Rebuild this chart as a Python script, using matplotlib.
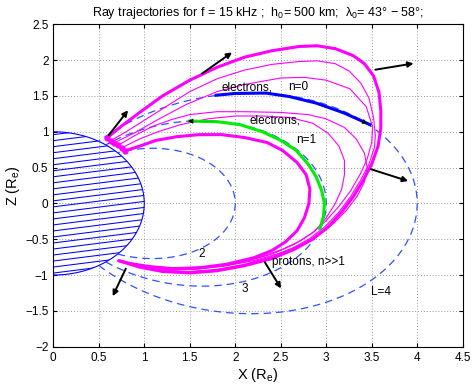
import numpy as np
import matplotlib
matplotlib.use('Agg')
import matplotlib.pyplot as plt
from matplotlib.patches import Polygon

plt.rcParams['font.family'] = ['Liberation Sans', 'DejaVu Sans']
plt.rcParams['mathtext.default'] = 'regular'

# dipole field lines drawn (L-shells) and their labels
L_shells = [2, 3, 4]
L_labels = ['2', '3', 'L=4']
L_label_pos = [(1.63, -0.70), (2.10, -1.19), (3.60, -1.23)]

# ray trajectories (x, z in Earth radii)
ray_outer_x = [0.586, 0.75, 0.95, 1.2, 1.5, 1.8, 2.1, 2.4, 2.7, 2.9, 3.1, 3.3, 3.42, 3.52, 3.58, 3.6,
               3.6, 3.57, 3.5, 3.41, 3.3, 3.17, 3.02, 2.85, 2.65, 2.4, 2.1, 1.8, 1.5, 1.2, 0.95, 0.72]
ray_outer_z = [0.91, 1.08, 1.27, 1.5, 1.72, 1.9, 2.04, 2.13, 2.19, 2.2, 2.16, 2.06, 1.95, 1.78, 1.55, 1.3,
               1.05, 0.8, 0.55, 0.33, 0.1, -0.12, -0.33, -0.5, -0.64, -0.77, -0.87, -0.94, -0.97, -0.95, -0.89, -0.8]

ray_t1_x = [0.63, 0.8, 1.0, 1.25, 1.5, 1.8, 2.1, 2.4, 2.7, 2.9, 3.1, 3.25, 3.38, 3.47, 3.52, 3.54,
            3.53, 3.47, 3.38, 3.27, 3.14, 2.99, 2.82, 2.62, 2.38, 2.1, 1.8, 1.5, 1.2, 0.95, 0.72]
ray_t1_z = [0.875, 1.0, 1.16, 1.36, 1.56, 1.74, 1.86, 1.94, 1.98, 1.99, 1.95, 1.85, 1.68, 1.47, 1.2, 0.95,
            0.78, 0.55, 0.33, 0.1, -0.12, -0.32, -0.49, -0.63, -0.75, -0.85, -0.92, -0.95, -0.93, -0.88, -0.8]

ray_t2_x = [0.67, 0.9, 1.15, 1.46, 1.8, 2.1, 2.5, 2.75, 3.0, 3.26, 3.44, 3.51,
            3.5, 3.45, 3.37, 3.27, 3.14, 3.0, 2.84, 2.65, 2.42, 2.15, 1.85, 1.55, 1.25, 1.0, 0.8, 0.72]
ray_t2_z = [0.845, 0.99, 1.17, 1.38, 1.56, 1.66, 1.75, 1.76, 1.72, 1.6, 1.35, 1.07,
            0.85, 0.62, 0.4, 0.18, -0.04, -0.24, -0.42, -0.57, -0.7, -0.8, -0.88, -0.92, -0.92, -0.88, -0.83, -0.8]

ray_t3_x = [0.71, 0.9, 1.1, 1.3, 1.5, 1.8, 2.1, 2.5, 2.8, 3.0, 3.2, 3.33, 3.42, 3.45, 3.42, 3.34, 3.22,
            3.08, 2.92, 2.72, 2.48, 2.2, 1.9, 1.6, 1.3, 1.05, 0.85, 0.72]
ray_t3_z = [0.81, 0.95, 1.08, 1.17, 1.24, 1.28, 1.28, 1.27, 1.24, 1.18, 1.06, 0.9, 0.7, 0.5, 0.3, 0.1, -0.1,
            -0.28, -0.44, -0.58, -0.7, -0.8, -0.87, -0.91, -0.92, -0.89, -0.84, -0.8]

ray_t4_x = [0.75, 0.95, 1.15, 1.4, 1.7, 2.0, 2.3, 2.6, 2.85, 3.02, 3.14, 3.2, 3.2, 3.17, 3.1, 3.0, 2.88,
            2.72, 2.52, 2.3, 2.0, 1.7, 1.4, 1.1, 0.88, 0.72]
ray_t4_z = [0.775, 0.9, 1.0, 1.1, 1.18, 1.22, 1.22, 1.2, 1.12, 0.98, 0.8, 0.6, 0.4, 0.2, 0.0, -0.2, -0.38,
            -0.52, -0.64, -0.74, -0.83, -0.88, -0.9, -0.89, -0.85, -0.8]

ray_inner_x = [0.79, 0.95, 1.13, 1.35, 1.6, 1.85, 2.1, 2.35, 2.52, 2.68, 2.78, 2.82, 2.81, 2.76, 2.68,
               2.55, 2.4, 2.2, 1.9, 1.6, 1.3, 1.05, 0.85, 0.72]
ray_inner_z = [0.735, 0.8, 0.88, 0.93, 0.96, 0.96, 0.92, 0.85, 0.74, 0.57, 0.4, 0.2, 0.0, -0.2, -0.38,
               -0.54, -0.66, -0.76, -0.85, -0.9, -0.91, -0.88, -0.84, -0.8]

# resonance segments
elec0_x = [1.79, 2.0, 2.34, 2.6, 2.89, 3.2, 3.48]
elec0_z = [1.51, 1.535, 1.54, 1.49, 1.40, 1.26, 1.10]
elec1_x = [2.93, 2.97, 2.98, 2.95, 2.89, 2.8, 2.67, 2.5, 2.3, 2.05, 1.8, 1.5]
elec1_z = [-0.35, -0.18, 0.0, 0.18, 0.37, 0.55, 0.74, 0.88, 1.0, 1.1, 1.14, 1.15]

# wave normal arrows (tail, head)
arrow_tail = [(0.59, 0.92), (1.61, 1.79), (3.51, 1.86), (3.46, 0.49), (2.31, -0.79), (0.81, -0.875)]
arrow_head = [(0.84, 1.33), (1.99, 2.13), (3.99, 1.96), (3.93, 0.30), (2.52, -1.22), (0.64, -1.33)]

fig = plt.figure(figsize=(4.73, 3.9), dpi=100)
ax = fig.add_axes([0.1127, 0.111, 0.8655, 0.8267])

# Earth: hatched half disk
th = np.linspace(-np.pi / 2, np.pi / 2, 200)
earth = Polygon(np.column_stack([np.cos(th), np.sin(th)]), closed=True,
                facecolor='none', edgecolor='none')
ax.add_patch(earth)
for c in np.arange(-1.14, 1.02, 0.084):
    hl, = ax.plot([0, 1.05], [c, c + 0.16 * 1.05], color='b', lw=0.75)
    hl.set_clip_path(earth)
ax.plot(np.cos(th), np.sin(th), color='b', lw=0.8)

# dipole field lines
for L in L_shells:
    lam0 = np.arccos(np.sqrt(1.0 / L))
    lam = np.linspace(-lam0, lam0, 300)
    r = L * np.cos(lam) ** 2
    ax.plot(r * np.cos(lam), r * np.sin(lam), color='#3050ff', lw=0.9, ls=(0, (6, 4)))
for s, (tx, tz) in zip(L_labels, L_label_pos):
    ax.text(tx, tz, s, fontsize=8.5, ha='center', va='center')

mag = '#ff00ff'
for xs, zs, lw in [(ray_t1_x, ray_t1_z, 0.8), (ray_t2_x, ray_t2_z, 0.8),
                   (ray_t3_x, ray_t3_z, 0.8), (ray_t4_x, ray_t4_z, 0.8),
                   (ray_outer_x, ray_outer_z, 2.2), (ray_inner_x, ray_inner_z, 2.2)]:
    ax.plot(xs, zs, color=mag, lw=lw, solid_capstyle='round', solid_joinstyle='round')
    ax.plot(xs[0], zs[0], 'o', color=mag, ms=3.5, mec=mag)

ax.plot(elec0_x, elec0_z, color='b', lw=2.2)
ax.annotate('', xy=(elec0_x[-1], elec0_z[-1]), xytext=(elec0_x[-2], elec0_z[-2]),
            arrowprops=dict(arrowstyle='-|>', color='k', lw=0.1, mutation_scale=9))
ax.plot(elec1_x, elec1_z, color='#00ee00', lw=2.2)
ax.annotate('', xy=(elec1_x[-1] - 0.05, elec1_z[-1]), xytext=(elec1_x[-2], elec1_z[-2]),
            arrowprops=dict(arrowstyle='-|>', color='k', lw=0.1, mutation_scale=9))

for t, h in zip(arrow_tail, arrow_head):
    ax.annotate('', xy=h, xytext=t,
                arrowprops=dict(arrowstyle='-|>', color='k', lw=1.4, mutation_scale=8))

ax.text(1.85, 1.62, 'electrons,', fontsize=8.5, va='center')
ax.text(2.58, 1.62, 'n=0', fontsize=8.5, va='center')
ax.text(2.16, 1.16, 'electrons,', fontsize=8.5, va='center')
ax.text(2.67, 0.88, 'n=1', fontsize=8.5, va='center')
ax.text(2.40, -0.815, 'protons, n>>1', fontsize=8.5, va='center')

ax.set_xlim(0, 4.5)
ax.set_ylim(-2, 2.5)
ax.set_xticks(np.arange(0, 4.51, 0.5))
ax.set_yticks(np.arange(-2, 2.51, 0.5))
ax.set_xticklabels(['0', '0.5', '1', '1.5', '2', '2.5', '3', '3.5', '4', '4.5'])
ax.set_yticklabels(['\u22122', '\u22121.5', '\u22121', '\u22120.5', '0', '0.5', '1', '1.5', '2', '2.5'])
ax.tick_params(direction='in', top=True, right=True, labelsize=8.5, length=3)
ax.grid(True, ls=(0, (1, 2)), color='0.6', lw=0.7)
ax.set_xlabel('X (R$_e$)', fontsize=10.5, labelpad=2)
ax.set_ylabel('Z (R$_e$)', fontsize=10.5, labelpad=2)
ax.set_title('Ray trajectories for f = 15 kHz ;  h$_0$= 500 km;  λ$_0$= 43° − 58°;',
             fontsize=9, pad=6)

fig.savefig('out.png', dpi=100)
